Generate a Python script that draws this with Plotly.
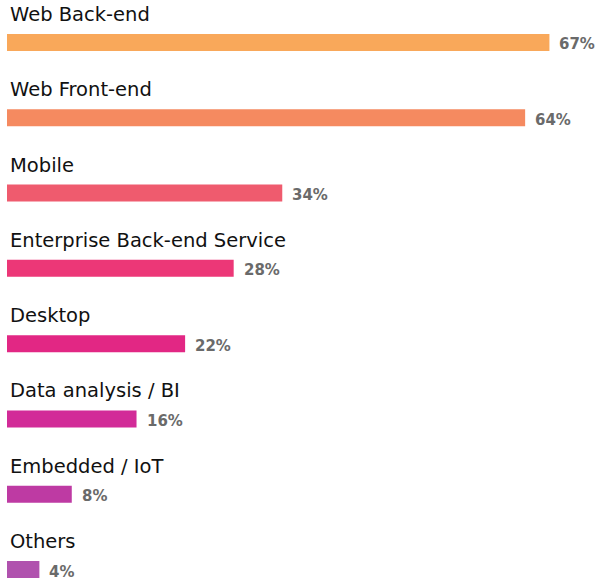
import plotly.graph_objects as go

categories = ["Web Back-end", "Web Front-end", "Mobile", "Enterprise Back-end Service",
              "Desktop", "Data analysis / BI", "Embedded / IoT", "Others"]
values = [67, 64, 34, 28, 22, 16, 8, 4]
value_labels = ["67%", "64%", "34%", "28%", "22%", "16%", "8%", "4%"]
colors = ["#F9A85A", "#F58A60", "#EF5B6E", "#EC3777", "#E22784", "#D22B98", "#BE3AA3", "#B052AE"]

fig = go.Figure()
fig.add_trace(go.Bar(
    x=values, y=categories, orientation="h",
    marker=dict(color=colors, line=dict(width=0)),
    width=0.226, hoverinfo="skip",
))

annotations = []
for c, v, t in zip(categories, values, value_labels):
    annotations.append(dict(
        x=0, y=c, xref="x", yref="y", text=c, showarrow=False,
        xanchor="left", yanchor="middle", xshift=1, yshift=28,
        font=dict(family="DejaVu Sans", size=19.5, color="#111111"),
    ))
    annotations.append(dict(
        x=v, y=c, xref="x", yref="y", text=f"<b>{t}</b>", showarrow=False,
        xanchor="left", yanchor="middle", xshift=8, yshift=-2,
        font=dict(family="DejaVu Sans", size=15, color="#6a6a6a"),
    ))

fig.update_layout(
    width=600, height=583,
    margin=dict(l=7, r=2, t=0, b=0),
    plot_bgcolor="white", paper_bgcolor="white",
    showlegend=False,
    xaxis=dict(range=[0, 73], visible=False, fixedrange=True),
    yaxis=dict(range=[7.179, -0.564], visible=False, categoryorder="array",
               categoryarray=categories, fixedrange=True),
    annotations=annotations,
)

fig.write_html("out.html", config={"displayModeBar": False},
               post_script="document.body.style.margin='0';document.body.style.padding='0';")
